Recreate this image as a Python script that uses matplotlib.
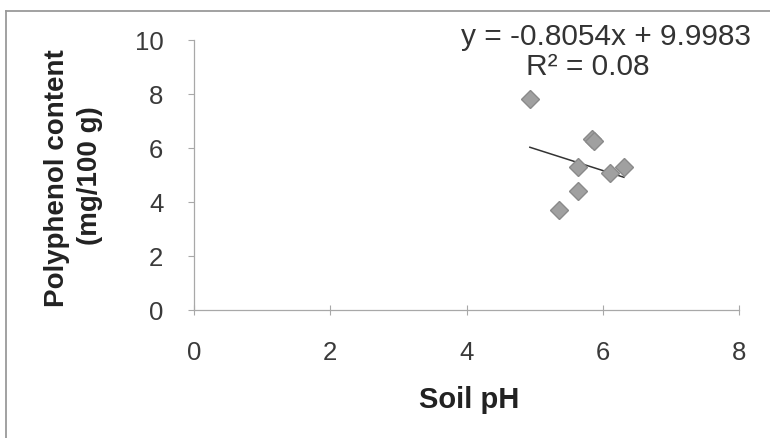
import matplotlib
matplotlib.use("Agg")
import matplotlib.pyplot as plt
from matplotlib.lines import Line2D
import numpy as np

# Soil pH vs polyphenol content
soil_ph = [4.93, 5.84, 5.87, 5.64, 5.64, 5.36, 6.11, 6.31]
polyphenol = [7.80, 6.32, 6.25, 5.30, 4.41, 3.70, 5.07, 5.30]

# linear trendline
slope = -0.8054
intercept = 9.9983
r_squared = 0.08

x_ticks = [0, 2, 4, 6, 8]
y_ticks = [0, 2, 4, 6, 8, 10]

plt.rcParams['font.family'] = ['Liberation Sans', 'DejaVu Sans']

W, H = 770, 439
fig = plt.figure(figsize=(W / 100, H / 100), dpi=100)
fig.patch.set_facecolor('white')

ax = fig.add_axes([194 / W, 1 - 311 / H, 545 / W, 270 / H])
ax.set_xlim(0, 8)
ax.set_ylim(0, 10)

ax.plot(soil_ph, polyphenol, linestyle='none', marker='D', markersize=9,
        markerfacecolor='#a0a0a0', markeredgecolor='#8a8a8a',
        markeredgewidth=1.0, zorder=3)

xs = np.array([min(soil_ph), max(soil_ph)])
ax.plot(xs, slope * xs + intercept, color='#333333', linewidth=1.1, zorder=2)

for side in ('top', 'right'):
    ax.spines[side].set_visible(False)
for side in ('left', 'bottom'):
    ax.spines[side].set_color('#a8a8a8')
    ax.spines[side].set_linewidth(0.9)

ax.set_xticks(x_ticks)
ax.set_yticks(y_ticks)
ax.tick_params(axis='x', direction='inout', length=7, width=0.8, color='#a8a8a8',
               labelsize=18.5, labelcolor='#3a3a3a', pad=18)
ax.tick_params(axis='y', direction='out', length=4, width=0.8, color='#a8a8a8',
               labelsize=18.5, labelcolor='#3a3a3a', pad=18)

fig.text(469 / W, 1 - 400 / H, 'Soil pH', ha='center', va='center',
         fontsize=21, fontweight='bold', color='#222222')
fig.text(57 / W, 1 - 178 / H, 'Polyphenol content', ha='center', va='center',
         rotation=90, fontsize=20, fontweight='bold', color='#222222')
fig.text(90 / W, 1 - 176 / H, '(mg/100 g)', ha='center', va='center',
         rotation=90, fontsize=20, fontweight='bold', color='#222222')

fig.text(606 / W, 1 - 37 / H, f'y = {slope:.4f}x + {intercept:.4f}',
         ha='center', va='center', fontsize=21.5, color='#333333')
fig.text(588 / W, 1 - 67 / H, f'R² = {r_squared:.2f}',
         ha='center', va='center', fontsize=21.5, color='#333333')

# chart area border (left and top edges)
fig.add_artist(Line2D([6 / W, 6 / W], [0, 1 - 12 / H], transform=fig.transFigure,
                      color='#9a9a9a', linewidth=1.3))
fig.add_artist(Line2D([6 / W, 1], [1 - 12 / H, 1 - 12 / H], transform=fig.transFigure,
                      color='#9a9a9a', linewidth=1.3))

fig.savefig('out.png', dpi=100)
